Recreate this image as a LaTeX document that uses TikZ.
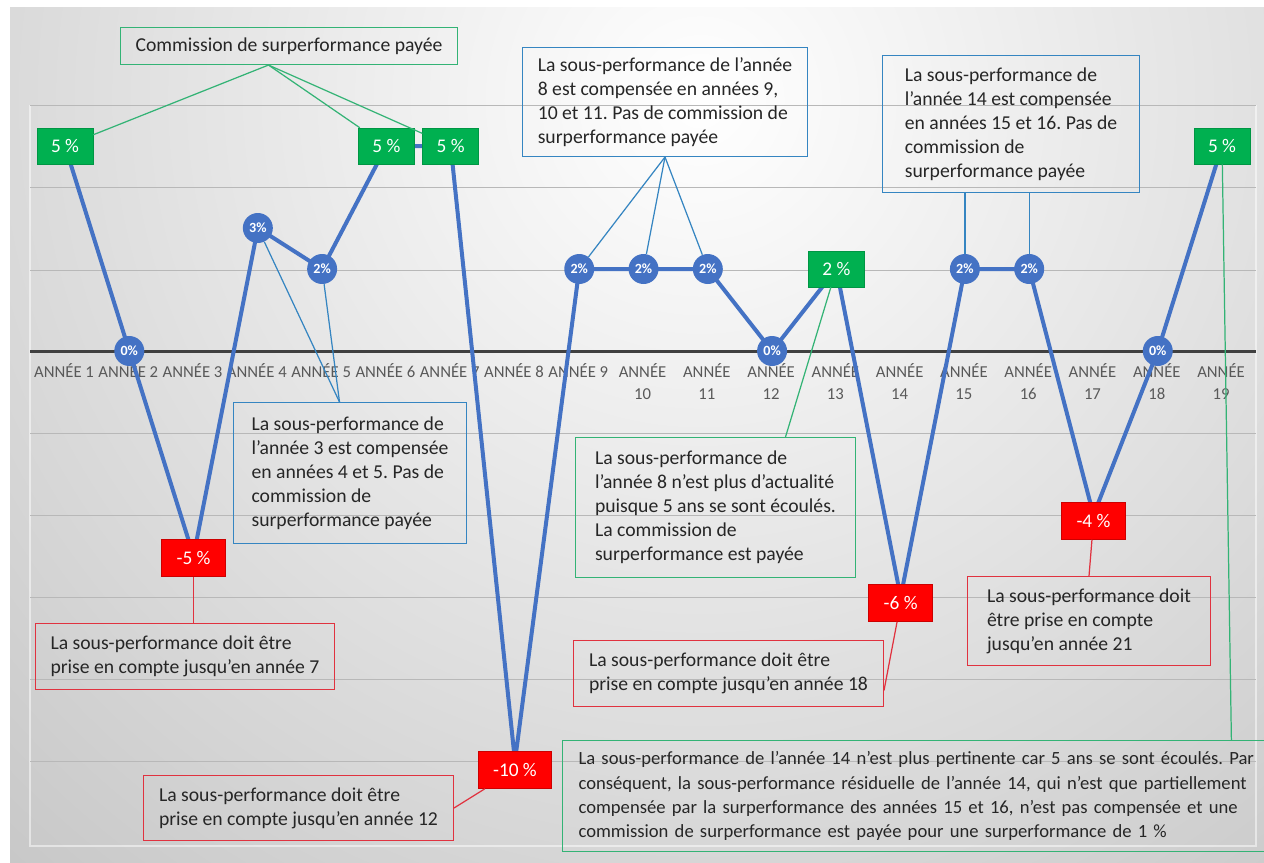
\documentclass[tikz,border=0pt]{standalone}
\usepackage{fontspec}
\setmainfont{Carlito}
\usepackage{tikz}
\usetikzlibrary{positioning,calc}
\definecolor{serieblue}{HTML}{4472C4}
\definecolor{gaingreen}{HTML}{00B050}
\definecolor{lossred}{HTML}{FF0000}
\definecolor{notegreen}{HTML}{33B375}
\definecolor{noteblue}{HTML}{3585C1}
\definecolor{notered}{HTML}{E0323F}
\definecolor{inkgray}{HTML}{262626}
\definecolor{axisgray}{HTML}{595959}
\frenchspacing

\begin{document}
\begin{tikzpicture}[x=0.02cm,y=-0.02cm,
  serie/.style={serieblue,line width=0.08cm,line join=round},
  grid/.style={black!28,line width=0.4pt},
  dot/.style={circle,fill=serieblue,text=white,minimum size=0.6cm,inner sep=0pt,font=\fontsize{8}{9}\selectfont\bfseries},
  gain/.style={fill=gaingreen,draw=gaingreen!85!black,line width=0.3pt,text=white,minimum width=1.12cm,minimum height=0.72cm,font=\fontsize{11}{12}\selectfont},
  loss/.style={fill=lossred,draw=lossred!80!black,line width=0.3pt,text=white,minimum height=0.74cm,font=\fontsize{11}{12}\selectfont},
  note/.style={draw=#1,line width=0.6pt,text=inkgray,align=left,inner xsep=0.26cm,anchor=north west,font=\fontsize{11.2}{13.7}\selectfont},
  link/.style={#1,line width=0.7pt},
  yearlab/.style={text=axisgray,align=center,anchor=north,inner sep=0pt,font=\fontsize{9.5}{12.5}\selectfont}
]
\clip (0,0) rectangle (1264,862);
\fill [white] (0,0) rectangle (1264,862);
\begin{scope}
 \clip (10,7) rectangle (1264,862);
 \shade [inner color=white,outer color=black!42] (-1300,-1900) rectangle (2700,2100);
\end{scope}
\draw [white,opacity=0.5,line width=0.8pt] (30,105) -- (30,846) -- (1256,846) -- (1256,105);

\foreach \gy in {105,187,270,433,515,597,679,761}
 \draw [grid] (30,\gy) -- (1256,\gy);
\draw [black!75,line width=0.06cm] (30,351) -- (1256,351);

\foreach \yr/\val in {1/5,2/0,3/-5,4/3,5/2,6/5,7/5,8/-10,9/2,10/2,11/2,12/0,13/2,14/-6,15/2,16/2,17/-4,18/0,19/5}
 \coordinate (p\yr) at ({65+(\yr-1)*64.28},{351-41*\val});

\foreach \yr in {1,...,9}
 \node [yearlab] (y\yr) at ({64+(\yr-1)*64.28},363) {ANNÉE \yr};
\foreach \yr in {10,...,19}
 \node [yearlab] (y\yr) at ({64+(\yr-1)*64.28},363) {ANNÉE\\\yr};

\draw [serie] (p1) \foreach \yr in {2,...,19}{ -- (p\yr)};

\node [note=notegreen,minimum width=6.74cm,minimum height=0.74cm] (paid) at (120,27) {Commission de surperformance payée};
\node [note=noteblue,minimum width=5.7cm,minimum height=2.18cm] (comp8) at (522,47)
 {La sous-performance de l'année\\8 est compensée en années 9,\\10 et 11. Pas de commission de\\surperformance payée};
\node [note=noteblue,minimum width=5.14cm,minimum height=2.74cm] (comp14) at (882,55)
 {La sous-performance de\\l'année 14 est compensée\\en années 15 et 16. Pas de\\commission de\\surperformance payée};
\node [note=noteblue,minimum width=4.66cm,minimum height=2.82cm] (comp3) at (233,402)
 {La sous-performance de\\l'année 3 est compensée\\en années 4 et 5. Pas de\\commission de\\surperformance payée};
\node [note=notered,minimum width=5.98cm,minimum height=1.32cm] (until7) at (35,623)
 {La sous-performance doit être\\prise en compte jusqu'en année 7};
\node [note=notered,minimum width=6.2cm,minimum height=1.3cm] (until12) at (143,775)
 {La sous-performance doit être\\prise en compte jusqu'en année 12};
\node [note=notegreen,minimum width=5.6cm,minimum height=2.8cm] (expired8) at (575,437)
 {La sous-performance de\\l'année 8 n'est plus d'actualité\\puisque 5 ans se sont écoulés.\\La commission de\\surperformance est payée};
\node [note=notered,minimum width=6.2cm,minimum height=1.32cm] (until18) at (573,640)
 {La sous-performance doit être\\prise en compte jusqu'en année 18};
\node [note=notered,minimum width=4.86cm,minimum height=1.78cm] (until21) at (967,576)
 {La sous-performance doit\\être prise en compte\\jusqu'en année 21};
\node [note=notegreen,text width=15cm,inner xsep=0.32cm,minimum height=2.22cm,font=\fontsize{10.6}{13.7}\selectfont] (expired14) at (562,740)
 {La sous-performance de l'année 14 n'est plus pertinente car 5 ans se sont écoulés. Par\\conséquent, la sous-performance résiduelle de l'année 14, qui n'est que partiellement\\compensée par la surperformance des années 15 et 16, n'est pas compensée et une\\commission de surperformance est payée pour une surperformance de 1 \%};

\foreach \yr/\val in {2/0,4/3,5/2,9/2,10/2,11/2,12/0,15/2,16/2,18/0}
 \node [dot] (m\yr) at (p\yr) {\val\%};
\foreach \yr/\val in {1/5,6/5,7/5,13/2,19/5}
 \node [gain] (m\yr) at (p\yr) {\val{} \%};
\foreach \yr/\val/\dy/\bw in {3/-5/2/1.28,8/-10/9/1.46,14/-6/6/1.28,17/-4/6/1.28}
 \node [loss,minimum width=\bw cm] (m\yr) at ($(p\yr)+(0,\dy)$) {\val{} \%};

\draw [link=notegreen] ([xshift=-0.41cm]paid.south) -- (m1);
\draw [link=notegreen] ([xshift=-0.41cm]paid.south) -- (m6);
\draw [link=notegreen] ([xshift=-0.41cm]paid.south) -- (m7);
\foreach \yr in {9,10,11}
 \draw [link=noteblue] (comp8.south) -- (m\yr);
\foreach \yr in {15,16}
 \draw [link=noteblue] (m\yr |- comp14.south) -- (m\yr);
\foreach \yr in {4,5}
 \draw [link=noteblue] ([xshift=-0.21cm]comp3.north) -- (m\yr);
\draw [link=notered] (m3) -- (m3 |- until7.north);
\draw [link=notered] (until12.east) -- (m8);
\draw [link=notegreen] ([xshift=1.4cm]expired8.north) -- (m13);
\draw [link=notered] ([yshift=-0.34cm]until18.east) -- (m14);
\draw [link=notered] (until21.north) -- (m17);
\draw [link=notegreen] ([xshift=5.56cm]expired14.north) -- (m19);
\end{tikzpicture}
\end{document}
